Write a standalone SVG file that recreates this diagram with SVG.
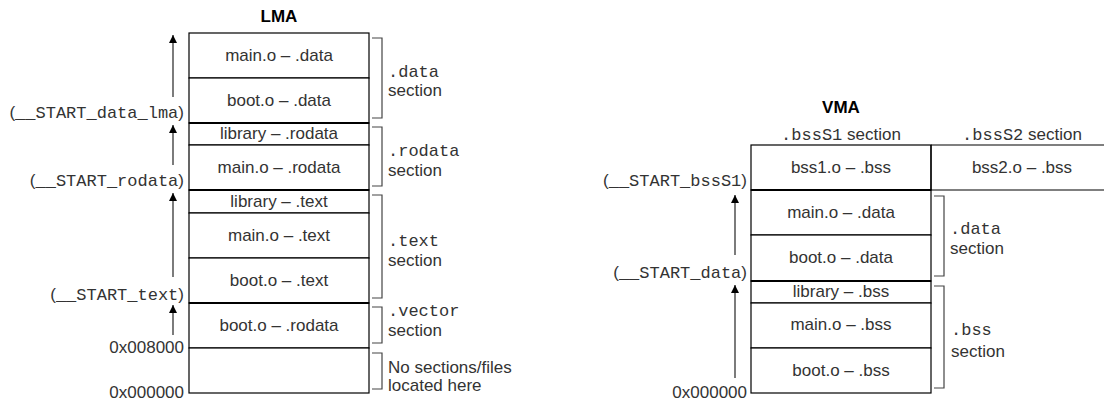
<svg xmlns="http://www.w3.org/2000/svg" width="1104" height="400" viewBox="0 0 1104 400">
<defs>
<marker id="ah" viewBox="0 0 10 10" refX="10" refY="5" markerWidth="8" markerHeight="8" markerUnits="userSpaceOnUse" orient="auto">
<path d="M0,0 L10,5 L0,10 z" fill="#000"/>
</marker>
<style>
text{font-family:"Liberation Sans",Arial,sans-serif;font-size:17px;fill:#333}
.m{font-family:"Liberation Mono","Courier New",monospace}
.t{font-weight:bold;fill:#000;text-anchor:middle}
.c{text-anchor:middle}
.r{text-anchor:end}
.cell{fill:#fff;stroke:#000;stroke-width:1.2}
.sep{stroke:#000;stroke-width:2.2;fill:none}
.br{fill:none;stroke:#444;stroke-width:1.2}
.ar{stroke:#444;stroke-width:1.4;fill:none;marker-end:url(#ah)}
</style>
</defs>
<rect width="1104" height="400" fill="#fff"/>
<text class="t" x="279" y="22">LMA</text>
<text class="t" x="841" y="113">VMA</text>

<g id="lma-main-data"><rect class="cell" x="189" y="33" width="180" height="45"/><text class="c" x="279" y="61">main.o – .data</text></g>
<g id="lma-boot-data"><rect class="cell" x="189" y="78" width="180" height="45"/><text class="c" x="279" y="106">boot.o – .data</text></g>
<g id="lma-lib-rodata"><rect class="cell" x="189" y="123" width="180" height="22"/><text class="c" x="279" y="139">library – .rodata</text></g>
<g id="lma-main-rodata"><rect class="cell" x="189" y="145" width="180" height="45"/><text class="c" x="279" y="173">main.o – .rodata</text></g>
<g id="lma-lib-text"><rect class="cell" x="189" y="190" width="180" height="23"/><text class="c" x="279" y="207">library – .text</text></g>
<g id="lma-main-text"><rect class="cell" x="189" y="213" width="180" height="45"/><text class="c" x="279" y="241">main.o – .text</text></g>
<g id="lma-boot-text"><rect class="cell" x="189" y="258" width="180" height="45"/><text class="c" x="279" y="286">boot.o – .text</text></g>
<g id="lma-boot-rodata"><rect class="cell" x="189" y="303" width="180" height="45"/><text class="c" x="279" y="331">boot.o – .rodata</text></g>
<g id="lma-empty"><rect class="cell" x="189" y="348" width="180" height="45"/></g>

<g id="vma-bss1"><rect class="cell" x="751" y="145" width="180" height="45"/><text class="c" x="841" y="173">bss1.o – .bss</text></g>
<g id="vma-bss2"><path d="M931,145 H1106 M931,190 H1106 M931,145 V190" fill="none" stroke="#000" stroke-width="1.2"/><text class="c" x="1022" y="173">bss2.o – .bss</text></g>
<g id="vma-main-data"><rect class="cell" x="751" y="190" width="180" height="45"/><text class="c" x="841" y="218">main.o – .data</text></g>
<g id="vma-boot-data"><rect class="cell" x="751" y="235" width="180" height="46"/><text class="c" x="841" y="263">boot.o – .data</text></g>
<g id="vma-lib-bss"><rect class="cell" x="751" y="281" width="180" height="22"/><text class="c" x="841" y="297">library – .bss</text></g>
<g id="vma-main-bss"><rect class="cell" x="751" y="303" width="180" height="45"/><text class="c" x="841" y="330">main.o – .bss</text></g>
<g id="vma-boot-bss"><rect class="cell" x="751" y="348" width="180" height="45"/><text class="c" x="841" y="376">boot.o – .bss</text></g>

<g id="separators">
<path class="sep" d="M189,123 H369 M189,190 H369 M189,303 H369 M751,190 H931 M751,281 H931"/>
</g>

<g id="brackets">
<path class="br" d="M372,38 H382 V118 H372"/>
<path class="br" d="M372,127 H382 V186 H372"/>
<path class="br" d="M372,195 H382 V298 H372"/>
<path class="br" d="M372,307 H382 V343 H372"/>
<path class="br" d="M372,353 H382 V389 H372"/>
<path class="br" d="M934,196 H944 V276 H934"/>
<path class="br" d="M934,286 H944 V388 H934"/>
</g>

<g id="section-labels">
<text class="m" x="388" y="77">.data</text><text x="388" y="96">section</text>
<text class="m" x="388" y="156">.rodata</text><text x="388" y="176">section</text>
<text class="m" x="388" y="246">.text</text><text x="388" y="266">section</text>
<text class="m" x="388" y="316">.vector</text><text x="388" y="336">section</text>
<text x="388" y="373">No sections/files</text><text x="388" y="391">located here</text>
<text class="m" x="950" y="234">.data</text><text x="950" y="254">section</text>
<text class="m" x="951" y="335">.bss</text><text x="951" y="357">section</text>
<text class="c" x="841" y="140"><tspan class="m">.bssS1</tspan> section</text>
<text class="c" x="1022" y="140"><tspan class="m">.bssS2</tspan> section</text>
</g>

<g id="address-labels">
<text class="r" x="184" y="118">(<tspan class="m">__START_data_lma</tspan>)</text>
<text class="r" x="184" y="186">(<tspan class="m">__START_rodata</tspan>)</text>
<text class="r" x="184" y="300">(<tspan class="m">__START_text</tspan>)</text>
<text class="r" x="184" y="353">0x008000</text>
<text class="r" x="184" y="398">0x000000</text>
<text class="r" x="747" y="186">(<tspan class="m">__START_bssS1</tspan>)</text>
<text class="r" x="747" y="278">(<tspan class="m">__START_data</tspan>)</text>
<text class="r" x="747" y="398">0x000000</text>
</g>

<g id="connectors">
<line class="ar" x1="173" y1="97" x2="173" y2="35"/>
<line class="ar" x1="173" y1="165" x2="173" y2="125"/>
<line class="ar" x1="173" y1="277" x2="173" y2="193"/>
<line class="ar" x1="173" y1="335" x2="173" y2="305"/>
<line class="ar" x1="735" y1="255" x2="735" y2="195"/>
<line class="ar" x1="735" y1="378" x2="735" y2="285"/>
</g>
</svg>
